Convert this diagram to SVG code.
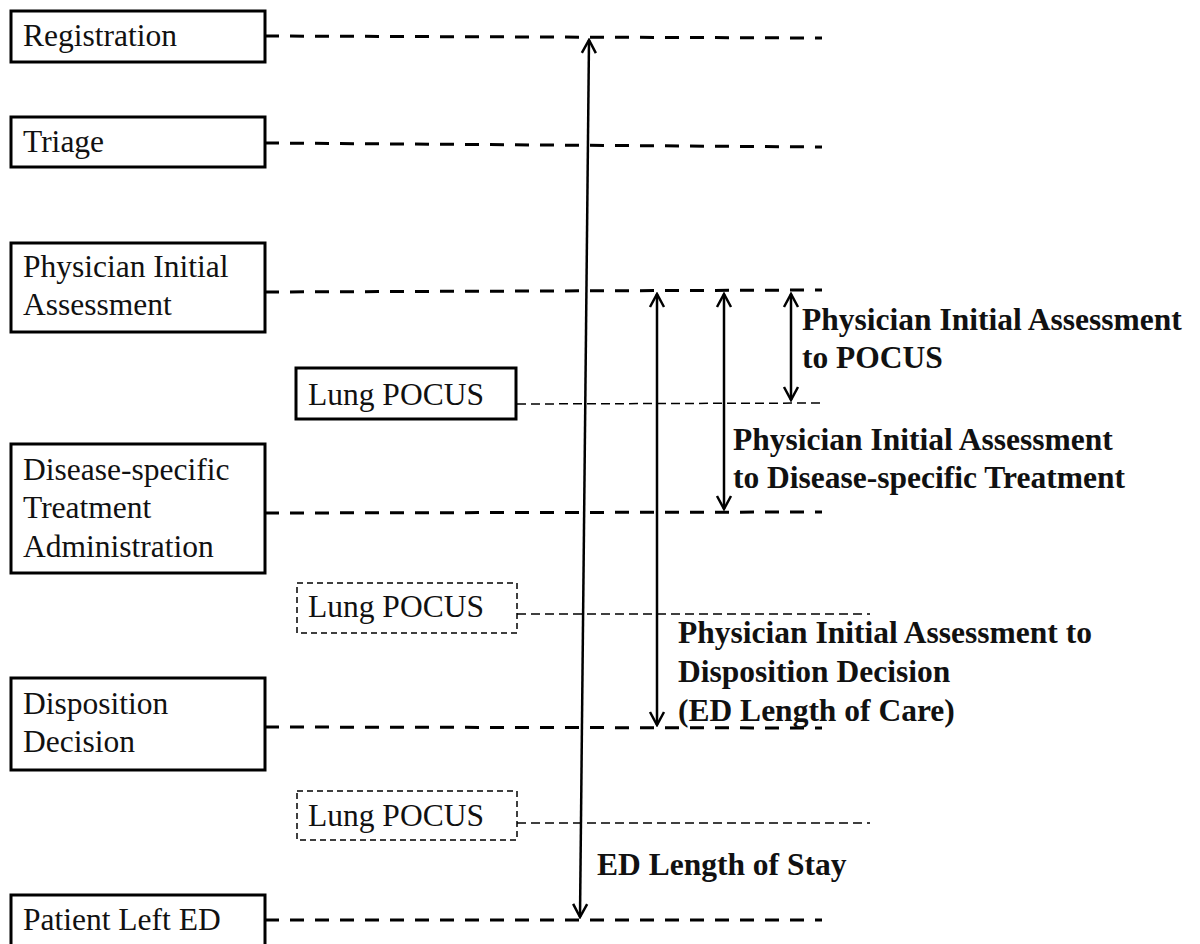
<svg xmlns="http://www.w3.org/2000/svg" width="1200" height="944" viewBox="0 0 1200 944">
<style>
.box{fill:#fff;stroke:#000;stroke-width:3}
.dbox{fill:#fff;stroke:#000;stroke-width:1.5;stroke-dasharray:6 4}
.t{font-family:"Liberation Serif","Times New Roman",serif;font-size:31.5px;fill:#111}
.b{font-family:"Liberation Serif","Times New Roman",serif;font-size:31.5px;font-weight:bold;fill:#111}
.thick{stroke:#000;stroke-width:3;stroke-dasharray:14 11;fill:none}
.thin{stroke:#000;stroke-width:1.5;stroke-dasharray:9 5;fill:none}
.arr{stroke:#000;stroke-width:2.5;fill:none;marker-start:url(#ah);marker-end:url(#ah)}
</style>
<defs>
<marker id="ah" markerUnits="userSpaceOnUse" viewBox="-16 -9 18 18" refX="0" refY="0" markerWidth="18" markerHeight="18" orient="auto-start-reverse">
<path d="M-13,-7 L0,0 L-13,7" fill="none" stroke="#000" stroke-width="2.5"/>
</marker>
</defs>
<rect width="1200" height="944" fill="#fff"/>
<g id="connectors">
<line class="thick" x1="265" y1="36" x2="822" y2="38"/>
<line class="thick" x1="265" y1="143" x2="822" y2="147"/>
<line class="thick" x1="265" y1="292" x2="822" y2="290"/>
<line class="thick" x1="265" y1="513" x2="822" y2="512"/>
<line class="thick" x1="265" y1="727" x2="822" y2="728"/>
<line class="thick" x1="265" y1="920" x2="822" y2="920"/>
<line class="thin" x1="517" y1="404" x2="822" y2="403"/>
<line class="thin" x1="517" y1="614" x2="870" y2="614"/>
<line class="thin" x1="517" y1="823" x2="870" y2="823"/>
<line class="arr" x1="589" y1="40" x2="580" y2="917"/>
<line class="arr" x1="657" y1="294" x2="657" y2="725"/>
<line class="arr" x1="724" y1="294" x2="724" y2="509"/>
<line class="arr" x1="791" y1="294" x2="791" y2="400"/>
</g>
<g id="registration">
<rect class="box" x="11" y="11" width="254" height="51"/>
<text class="t" x="23" y="46">Registration</text>
</g>
<g id="triage">
<rect class="box" x="11" y="117" width="254" height="50"/>
<text class="t" x="23" y="152">Triage</text>
</g>
<g id="physician-initial-assessment">
<rect class="box" x="11" y="243" width="254" height="89"/>
<text class="t" x="23" y="277">Physician Initial</text>
<text class="t" x="23" y="315">Assessment</text>
</g>
<g id="lung-pocus-1">
<rect class="box" x="296" y="368" width="220" height="51"/>
<text class="t" x="308" y="405">Lung POCUS</text>
</g>
<g id="disease-specific-treatment">
<rect class="box" x="11" y="444" width="254" height="129"/>
<text class="t" x="23" y="480">Disease-specific</text>
<text class="t" x="23" y="518">Treatment</text>
<text class="t" x="23" y="557">Administration</text>
</g>
<g id="lung-pocus-2">
<rect class="dbox" x="297" y="583" width="220" height="50"/>
<text class="t" x="308" y="617">Lung POCUS</text>
</g>
<g id="disposition-decision">
<rect class="box" x="11" y="678" width="254" height="92"/>
<text class="t" x="23" y="714">Disposition</text>
<text class="t" x="23" y="752">Decision</text>
</g>
<g id="lung-pocus-3">
<rect class="dbox" x="297" y="791" width="220" height="49"/>
<text class="t" x="308" y="826">Lung POCUS</text>
</g>
<g id="patient-left-ed">
<rect class="box" x="11" y="895" width="254" height="60"/>
<text class="t" x="23" y="930">Patient Left ED</text>
</g>
<g id="labels">
<text class="b" x="802" y="330">Physician Initial Assessment</text>
<text class="b" x="802" y="368">to POCUS</text>
<text class="b" x="733" y="450">Physician Initial Assessment</text>
<text class="b" x="733" y="488">to Disease-specific Treatment</text>
<text class="b" x="678" y="643">Physician Initial Assessment to</text>
<text class="b" x="678" y="682">Disposition Decision</text>
<text class="b" x="678" y="721">(ED Length of Care)</text>
<text class="b" x="597" y="875">ED Length of Stay</text>
</g>
</svg>
